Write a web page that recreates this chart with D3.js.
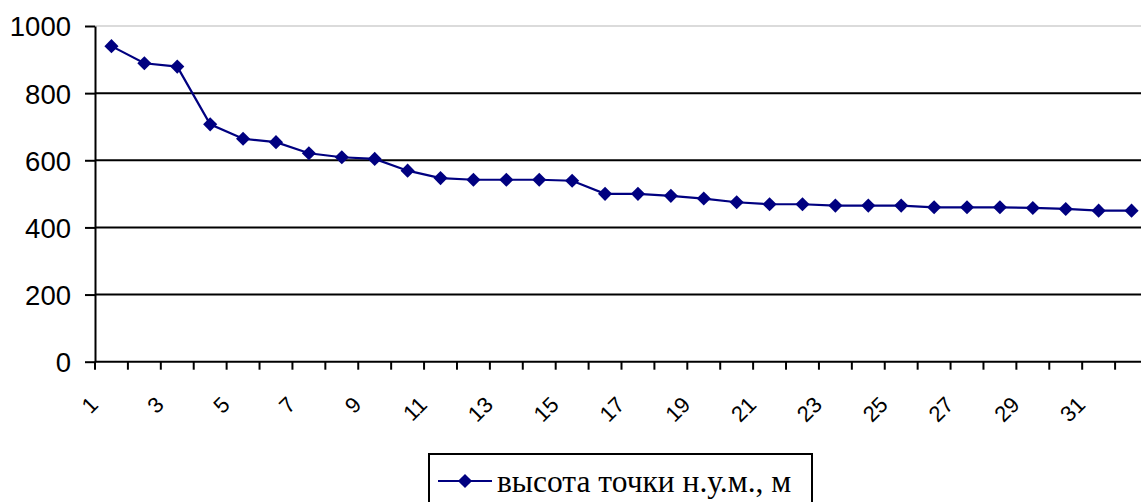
<!DOCTYPE html>
<html>
<head>
<meta charset="utf-8">
<script src="https://cdn.jsdelivr.net/npm/d3@7"></script>
<style>
  html, body { margin: 0; padding: 0; background: #fff; }
  svg { display: block; }
</style>
</head>
<body>
<svg id="chart" width="1141" height="502"></svg>
<script>
const categories = d3.range(1, 33).map(String);
const values = [940, 889, 879, 707, 664, 654, 621, 609, 604, 569,
                547, 542, 542, 542, 539, 500, 500, 494, 486, 475,
                469, 469, 465, 465, 465, 460, 460, 460, 458, 455,
                450, 450];
const yTicks = [0, 200, 400, 600, 800, 1000];
const xTickLabels = categories.filter((d, i) => i % 2 === 0);
const seriesName = "высота точки н.у.м., м";

const svg = d3.select("#chart");
const navy = "#000080";

const x = d3.scaleBand().domain(categories).range([95, 1148]).padding(0);
const y = d3.scaleLinear().domain([0, 1000]).range([361.7, 26]);

// gridlines
svg.append("g").selectAll("line").data(yTicks.filter(d => d > 0)).join("line")
  .attr("x1", 95).attr("x2", 1141)
  .attr("y1", d => y(d)).attr("y2", d => y(d))
  .attr("stroke", d => d === 1000 ? "#cfcfcf" : "#000")
  .attr("stroke-width", d => d === 1000 ? 1.5 : 2);

// y axis
const yAxis = svg.append("g").attr("transform", "translate(95,0)")
  .call(d3.axisLeft(y).tickValues(yTicks).tickFormat(d3.format("d"))
    .tickSize(10).tickSizeOuter(0).tickPadding(14));
yAxis.attr("font-family", "Liberation Sans, Arial, sans-serif").attr("font-size", 27.5);
yAxis.select(".domain").attr("stroke", "#000").attr("stroke-width", 2);
yAxis.selectAll(".tick line").attr("stroke", "#000").attr("stroke-width", 2);
yAxis.selectAll(".tick text").attr("fill", "#000").attr("dy", "0.36em");

// x axis: ticks between categories
const xTickPos = d3.range(0, categories.length + 1).map(i => 95 + i * x.step());
const xg = svg.append("g");
xg.append("line").attr("x1", 95).attr("x2", 1141)
  .attr("y1", y(0)).attr("y2", y(0)).attr("stroke", "#000").attr("stroke-width", 2);
xg.selectAll("line.t").data(xTickPos).join("line").attr("class", "t")
  .attr("x1", d => d).attr("x2", d => d)
  .attr("y1", y(0)).attr("y2", y(0) + 8)
  .attr("stroke", "#000").attr("stroke-width", 2);
xg.selectAll("text").data(xTickLabels).join("text")
  .attr("transform", d => `translate(${x(d) + x.bandwidth() / 2 - 12},406) rotate(-45)`)
  .attr("text-anchor", "end")
  .attr("font-family", "Liberation Sans, Arial, sans-serif")
  .attr("font-size", 22).attr("fill", "#000")
  .text(d => d);

// line
const cx = (d, i) => x(categories[i]) + x.bandwidth() / 2;
svg.append("path").datum(values)
  .attr("fill", "none").attr("stroke", navy).attr("stroke-width", 2.2)
  .attr("d", d3.line().x(cx).y(d => y(d)));

const diamond = d3.symbol().type(d3.symbolSquare).size(100);
svg.append("g").selectAll("path").data(values).join("path")
  .attr("d", diamond())
  .attr("transform", (d, i) => `translate(${cx(d, i)},${y(d)}) rotate(45)`)
  .attr("fill", navy);

// legend
const lg = svg.append("g");
lg.append("rect").attr("x", 429).attr("y", 454).attr("width", 383).attr("height", 70)
  .attr("fill", "#fff").attr("stroke", "#000").attr("stroke-width", 2);
lg.append("line").attr("x1", 438).attr("x2", 492).attr("y1", 481).attr("y2", 481)
  .attr("stroke", navy).attr("stroke-width", 2.2);
lg.append("path").attr("d", diamond())
  .attr("transform", "translate(465,481) rotate(45)").attr("fill", navy);
lg.append("text").attr("x", 497).attr("y", 492)
  .attr("font-family", "Liberation Serif, Times New Roman, serif")
  .attr("font-size", 31.5).attr("fill", "#000")
  .text(seriesName);
</script>
</body>
</html>
